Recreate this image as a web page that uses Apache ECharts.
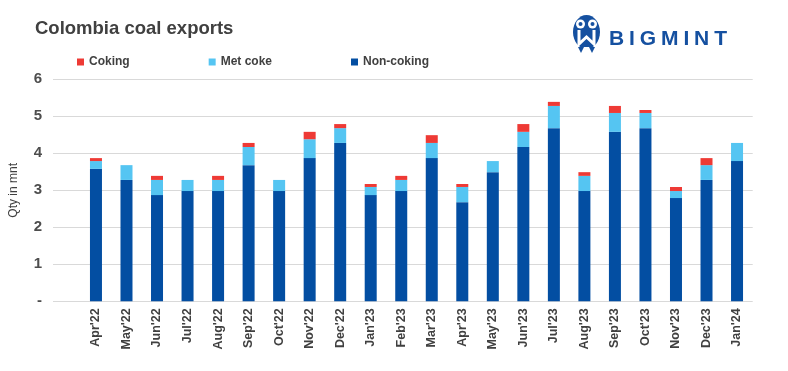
<!DOCTYPE html>
<html>
<head>
<meta charset="utf-8">
<script src="https://cdn.jsdelivr.net/npm/echarts@6/dist/echarts.min.js"></script>
<style>
html,body{margin:0;padding:0;background:#fff;}
#chart{width:788px;height:371px;}
</style>
</head>
<body>
<div id="chart"></div>
<script>
const categories = ["Apr'22","May'22","Jun'22","Jul'22","Aug'22","Sep'22","Oct'22","Nov'22","Dec'22","Jan'23","Feb'23","Mar'23","Apr'23","May'23","Jun'23","Jul'23","Aug'23","Sep'23","Oct'23","Nov'23","Dec'23","Jan'24"];
const nonCoking = [3.58,3.28,2.87,2.98,2.98,3.68,2.98,3.87,4.28,2.87,2.98,3.87,2.68,3.49,4.17,4.68,2.98,4.58,4.68,2.79,3.28,3.79];
const metCoke   = [0.21,0.40,0.41,0.30,0.30,0.49,0.30,0.51,0.40,0.22,0.30,0.41,0.41,0.30,0.41,0.60,0.41,0.51,0.41,0.19,0.40,0.49];
const coking    = [0.08,0,0.11,0,0.11,0.11,0,0.20,0.11,0.08,0.11,0.21,0.08,0,0.21,0.11,0.10,0.19,0.08,0.11,0.19,0];
const yTicks = [0,1,2,3,4,5,6];

const FONT = '"Liberation Sans", Arial, sans-serif';
const TXT = '#404040';
const chart = echarts.init(document.getElementById('chart'), null, {renderer:'canvas'});

const logoLetters = ['B','I','G','M','I','N','T'];
const logoX = [609,629.1,639.8,661,683.4,694.1,714.2];

const option = {
  backgroundColor:'#ffffff',
  animation:false,
  title:{
    text:'Colombia coal exports',
    left:30, top:14,
    textStyle:{fontFamily:FONT,fontSize:18.5,fontWeight:'bold',color:TXT}
  },
  legend:{
    data:['Coking','Met coke','Non-coking'],
    left:72, top:51,
    itemWidth:7, itemHeight:7, itemGap:79,
    icon:'rect',
    textStyle:{fontFamily:FONT,fontSize:12,fontWeight:'bold',color:TXT}
  },
  grid:[
    {left:50,right:35.3,top:79.3,bottom:69.7},
    {left:80.7,right:35.7,top:79.3,bottom:69.7}
  ],
  xAxis:[
    {gridIndex:0,type:'category',data:categories,show:false},
    {gridIndex:1,type:'category',data:categories,
     axisLine:{show:false},axisTick:{show:false},
     axisLabel:{rotate:90,margin:7,fontFamily:FONT,fontSize:12.5,fontWeight:'bold',color:TXT,interval:0}}
  ],
  yAxis:[
    {gridIndex:0,type:'value',min:0,max:6,interval:1,
     axisLine:{show:false},axisTick:{show:false},
     splitLine:{show:true,lineStyle:{color:'#d9d9d9',width:1.2}},
     axisLabel:{margin:11,fontFamily:FONT,fontSize:15,fontWeight:'bold',color:'#4d4d4d',
       formatter:function(v){return v===0?'-':String(v);}},
     name:'Qty in mnt',nameLocation:'middle',nameRotate:90,nameGap:33,
     nameTextStyle:{fontFamily:FONT,fontSize:12,color:TXT}},
    {gridIndex:1,type:'value',min:0,max:6,interval:1,show:false,splitLine:{show:false}}
  ],
  series:[
    {name:'Non-coking',type:'bar',stack:'t',xAxisIndex:1,yAxisIndex:1,barWidth:12,data:nonCoking,itemStyle:{color:'#034ea2'}},
    {name:'Met coke',type:'bar',stack:'t',xAxisIndex:1,yAxisIndex:1,barWidth:12,data:metCoke,itemStyle:{color:'#55c5f2'}},
    {name:'Coking',type:'bar',stack:'t',xAxisIndex:1,yAxisIndex:1,barWidth:12,data:coking,itemStyle:{color:'#ee3a35'}}
  ],
  graphic:[
    {type:'group',children:[
      {type:'ellipse',shape:{cx:586.5,cy:32,rx:13.5,ry:17},style:{fill:'#1550a0'}},
      {type:'circle',shape:{cx:580.5,cy:24,r:4.5},style:{fill:'#fff'}},
      {type:'circle',shape:{cx:592.5,cy:24,r:4.5},style:{fill:'#fff'}},
      {type:'circle',shape:{cx:580.5,cy:24,r:2},style:{fill:'#1550a0'}},
      {type:'circle',shape:{cx:592.5,cy:24,r:2},style:{fill:'#1550a0'}},
      {type:'polyline',shape:{points:[[579,30],[579,44],[586.5,37],[594,44],[594,30]]},style:{stroke:'#fff',lineWidth:3,fill:null}},
      {type:'rect',shape:{x:576,y:47,width:21,height:6},style:{fill:'#fff'}},
      {type:'polygon',shape:{points:[[578,47],[581,53],[584,47]]},style:{fill:'#1550a0'}},
      {type:'polygon',shape:{points:[[589,47],[592,53],[595,47]]},style:{fill:'#1550a0'}}
    ]}
  ].concat(logoLetters.map(function(ch,i){
    return {type:'text',left:logoX[i],top:28.5,
      style:{text:ch,fontFamily:FONT,fontSize:21,fontWeight:'bold',fill:'#1550a0'}};
  }))
};
chart.setOption(option);
</script>
</body>
</html>
